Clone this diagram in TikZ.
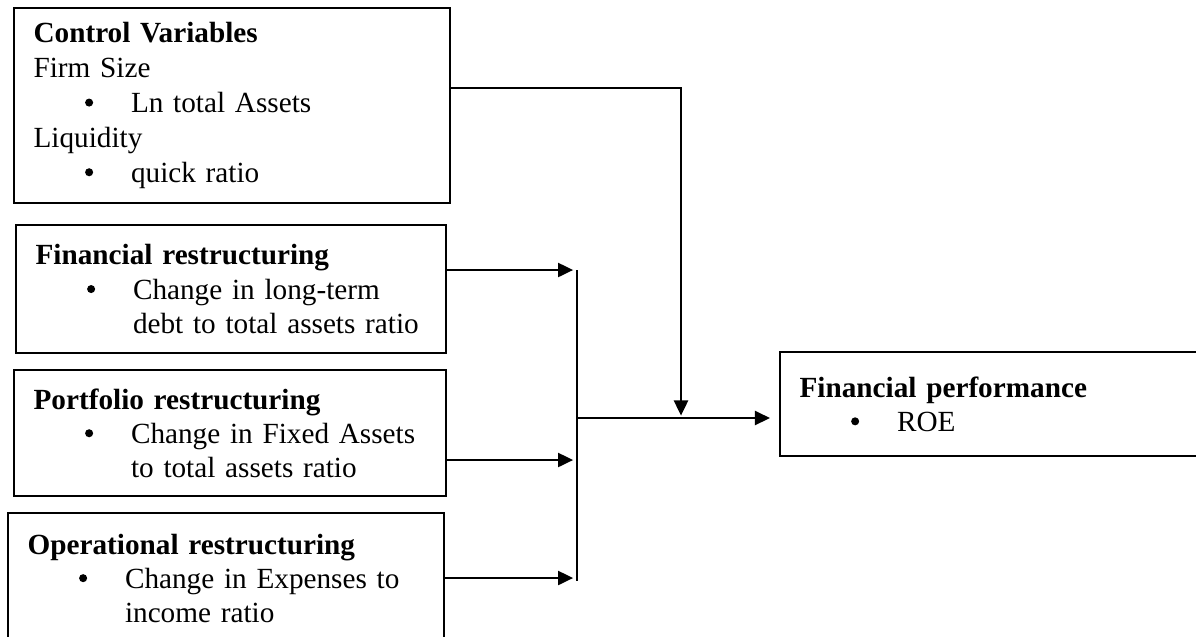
\documentclass[tikz,border=0pt]{standalone}
\usepackage{fontspec}
\setmainfont{Liberation Serif}
\usepackage{tikz}
\usetikzlibrary{arrows.meta}

% bullet line inside a box
\newcommand{\bitem}[1]{\hspace*{21.15pt}%
  \makebox[18.85pt][l]{\tikz[baseline=0pt]\fill (1.65pt,4.1pt) circle (1.65pt);}%
  \parbox[t]{130pt}{#1}}

\begin{document}
\begin{tikzpicture}[x=0.4105pt, y=-0.4105pt,
  factor/.style={rectangle, draw=black, line width=.9pt, anchor=north west,
    inner xsep=8pt, inner ysep=0pt, align=left,
    font=\fontsize{12}{14}\selectfont},
  %
  link/.style={line width=.8pt},
  %
  flow/.style={link, -{Triangle[length=6.2pt, width=5.8pt]}}
  ]

  \useasboundingbox (0,0) rectangle (1196,636);
  \clip (0,0) rectangle (1196,636);

  \begin{scope}
    %%%%%%%%%%%%%%%%%%%%%%%%%%%%%%%
    \node [factor, text width=163pt, minimum height=80pt,
      font=\fontsize{12}{14.3}\selectfont] (control) at (13,7)
    {\textbf{Control Variables}\\
      Firm Size\\
      \bitem{Ln total Assets}\\
      Liquidity\\
      \bitem{quick ratio}};
    %%%%%%%%%%%%%%%%%%%%%%%%%%%%%%%
    \node [factor, text width=160.5pt, minimum height=52.5pt] (finr) at (15,224)
    {\textbf{Financial restructuring}\\
      \bitem{Change in long-term\\ debt to total assets ratio}};
    %%%%%%%%%%%%%%%%%%%%%%%%%%%%%%%
    \node [factor, text width=161.3pt, minimum height=51.7pt] (portr) at (13,369)
    {\textbf{Portfolio restructuring}\\
      \bitem{Change in Fixed Assets\\ to total assets ratio}};
    %%%%%%%%%%%%%%%%%%%%%%%%%%%%%%%
    \node [factor, text width=163pt, minimum height=53.4pt] (operr) at (7,512)
    {\textbf{Operational restructuring}\\
      \bitem{Change in Expenses to\\ income ratio}};
    %%%%%%%%%%%%%%%%%%%%%%%%%%%%%%%
    \node [factor, text width=165pt, minimum height=42.7pt] (perf) at (779,351)
    {\textbf{Financial performance}\\
      \bitem{ROE}};
  \end{scope}

  \begin{scope}
    \coordinate (bus1) at (577,270);
    \coordinate (bus2) at (577,460);
    \coordinate (bus3) at (577,578);
    \coordinate (busend) at (577,581);
    \coordinate (busmid) at (577,418);
    \coordinate (join) at (681,418);

    \draw [link] (bus1) -- (busend);
    \draw [flow, shorten >=1.6pt] (finr.east |- bus1) -- (bus1);
    \draw [flow, shorten >=1.6pt] (portr.east |- bus2) -- (bus2);
    \draw [flow, shorten >=1.6pt] (operr.east |- bus3) -- (bus3);
    \draw [flow, shorten >=3.7pt] (busmid) -- (perf.west |- busmid);
    \draw [flow, shorten >=1pt] ([yshift=-33.25pt]control.north east) -| (join);
  \end{scope}

\end{tikzpicture}
\end{document}
